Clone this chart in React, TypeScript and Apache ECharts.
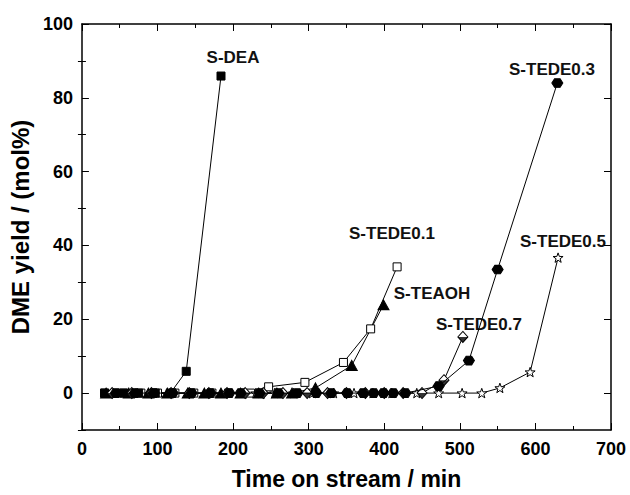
import React, { useEffect, useRef } from "react";
import * as echarts from "echarts";

// ---- data (time on stream / min, DME yield / mol%) ----
const sDEA: number[][] = [[30, 0], [55, 0], [75, 0], [97, 0], [117, 0], [138, 5.9], [184, 85.9]];
const sTEDE01: number[][] = [[30, 0], [55, 0], [78, 0], [100, 0], [123, 0], [148, 0], [172, 0], [194, 0], [223, 0], [247, 1.7], [295, 2.9], [346, 8.3], [382, 17.4], [417, 34.2]];
const sTEAOH: number[][] = [[32, 0], [62, 0], [88, 0], [113, 0], [140, 0], [162, 0], [184, 0], [210, 0], [234, 0], [258, 0], [278, 0], [309, 1.4], [357, 7.5], [399, 23.9]];
const sTEDE07: number[][] = [[40, 0], [66, 0], [92, 0], [118, 0], [142, 0], [168, 0], [192, 0], [216, 0], [240, 0], [266, 0], [298, 0], [325, 0], [350, 0], [375, 0], [400, 0], [425, 0], [450, 0], [479, 3.5], [504, 15.2]];
const sTEDE03: number[][] = [[45, 0], [70, 0], [95, 0], [120, 0], [145, 0], [170, 0], [195, 0], [210, 0], [235, 0], [260, 0], [285, 0], [310, 0], [330, 0], [351, 0], [372, 0], [386, 0], [399, 0], [412, 0], [428, 0], [472, 1.9], [512, 8.8], [550, 33.5], [629, 84]];
const sTEDE05: number[][] = [[230, 0], [255, 0], [280, 0], [305, 0], [333, 0], [360, 0], [385, 0], [410, 0], [443, 0], [472, 0], [503, 0], [529, 0], [553, 1.4], [593, 5.7], [630, 36.7]];

const seriesNames = ["S-DEA", "S-TEDE0.1", "S-TEAOH", "S-TEDE0.7", "S-TEDE0.3", "S-TEDE0.5"];
const yLabelTicks = [0, 20, 40, 60, 80, 100];
const yMinorTicks = [-10, 10, 30, 50, 70, 90];

const STAR = "path://M10,0L12.35,6.76L19.51,6.91L13.8,11.24L15.88,18.09L10,14L4.12,18.09L6.2,11.24L0.49,6.91L7.65,6.76Z";
const HEX = "path://M0,5L2.5,0.67L7.5,0.67L10,5L7.5,9.33L2.5,9.33Z";
const DOWN_TRI = "path://M0,0L10,0L5,5Z";

const FONT = "Liberation Sans, Arial, Helvetica, sans-serif";
const BLACK = "#000";

export default function App() {
  const ref = useRef<HTMLDivElement>(null);
  useEffect(() => {
    if (!ref.current) return;
    const chart = echarts.init(ref.current, undefined, { renderer: "svg" });

    const lineBase = (name: string, data: number[][], extra: any) => ({
      name,
      type: "line",
      data,
      lineStyle: { color: BLACK, width: 1 },
      itemStyle: { color: BLACK, borderColor: BLACK, borderWidth: 1 },
      showSymbol: true,
      showAllSymbol: true,
      symbolKeepAspect: true,
      ...extra,
    });

    const axisLine = { show: true, onZero: false, lineStyle: { color: BLACK, width: 1.5 } };

    const label = (text: string, x: number, y: number) => ({
      type: "text",
      x,
      y,
      style: {
        text,
        font: `bold 17px ${FONT}`,
        fill: "#111",
        textAlign: "center",
        textVerticalAlign: "middle",
      },
    });

    const option: any = {
      animation: false,
      backgroundColor: "#fff",
      grid: { left: 81, right: 19, top: 24, bottom: 59, containLabel: false },
      xAxis: [
        {
          type: "value",
          min: 0,
          max: 700,
          interval: 100,
          position: "bottom",
          axisLine,
          axisTick: { show: true, inside: true, length: 7, lineStyle: { color: BLACK, width: 1 } },
          minorTick: { show: true, splitNumber: 2, length: 4, lineStyle: { color: BLACK, width: 1 } },
          splitLine: { show: false },
          axisLabel: { color: BLACK, fontSize: 18, fontWeight: "bold", fontFamily: FONT, margin: 10 },
          name: "Time on stream / min",
          nameLocation: "middle",
          nameGap: 37,
          nameTextStyle: { color: BLACK, fontSize: 23, fontWeight: "bold", fontFamily: FONT },
        },
        {
          type: "value",
          min: 0,
          max: 700,
          interval: 100,
          position: "top",
          axisLine,
          axisTick: { show: true, inside: true, length: 7, lineStyle: { color: BLACK, width: 1 } },
          minorTick: { show: true, splitNumber: 2, length: 4, lineStyle: { color: BLACK, width: 1 } },
          splitLine: { show: false },
          axisLabel: { show: false },
        },
      ],
      yAxis: [
        {
          type: "value",
          min: -10,
          max: 100,
          interval: 10,
          position: "left",
          axisLine,
          axisTick: { show: true, inside: true, length: 7, customValues: yLabelTicks, lineStyle: { color: BLACK, width: 1 } },
          splitLine: { show: false },
          axisLabel: { color: BLACK, fontSize: 18, fontWeight: "bold", fontFamily: FONT, margin: 9, customValues: yLabelTicks },
          name: "DME yield / (mol%)",
          nameLocation: "middle",
          nameGap: 48,
          nameTextStyle: { color: BLACK, fontSize: 24, fontWeight: "bold", fontFamily: FONT },
        },
        {
          type: "value",
          min: -10,
          max: 100,
          interval: 10,
          position: "right",
          axisLine,
          axisTick: { show: true, inside: true, length: 7, customValues: yLabelTicks, lineStyle: { color: BLACK, width: 1 } },
          splitLine: { show: false },
          axisLabel: { show: false },
        },
        {
          type: "value",
          min: -10,
          max: 100,
          interval: 10,
          position: "left",
          axisLine: { show: false },
          axisTick: { show: true, inside: true, length: 4, customValues: yMinorTicks, lineStyle: { color: BLACK, width: 1 } },
          splitLine: { show: false },
          axisLabel: { show: false },
        },
        {
          type: "value",
          min: -10,
          max: 100,
          interval: 10,
          position: "right",
          axisLine: { show: false },
          axisTick: { show: true, inside: true, length: 4, customValues: yMinorTicks, lineStyle: { color: BLACK, width: 1 } },
          splitLine: { show: false },
          axisLabel: { show: false },
        },
      ],
      series: [
        lineBase(seriesNames[1], sTEDE01, { symbol: "rect", symbolSize: 8, itemStyle: { color: "#fff", borderColor: BLACK, borderWidth: 1 } }),
        lineBase(seriesNames[5], sTEDE05, { symbol: STAR, symbolSize: 10, itemStyle: { color: "#fff", borderColor: BLACK, borderWidth: 1 } }),
        lineBase(seriesNames[0], sDEA, { symbol: "rect", symbolSize: 8 }),
        lineBase(seriesNames[2], sTEAOH, { symbol: "triangle", symbolSize: [11, 10] }),
        lineBase(seriesNames[3], sTEDE07, { symbol: "diamond", symbolSize: [10, 11], symbolKeepAspect: false, z: 3, itemStyle: { color: "#fff", borderColor: BLACK, borderWidth: 1 } }),
        {
          name: seriesNames[3] + " fill",
          type: "scatter",
          data: sTEDE07,
          symbol: DOWN_TRI,
          symbolSize: [10, 5.5],
          symbolOffset: [0, 2.75],
          itemStyle: { color: BLACK },
          silent: true,
          z: 4,
        },
        lineBase(seriesNames[4], sTEDE03, { symbol: HEX, symbolSize: [11, 10], z: 5 }),
      ],
      graphic: [
        label("S-DEA", 233, 57),
        label("S-TEDE0.1", 392, 233),
        label("S-TEAOH", 432, 293),
        label("S-TEDE0.7", 479, 324),
        label("S-TEDE0.3", 552, 69),
        label("S-TEDE0.5", 563, 241),
      ],
    };

    chart.setOption(option);
    return () => chart.dispose();
  }, []);

  return <div ref={ref} style={{ position: "fixed", left: 0, top: 0, width: 630, height: 495, background: "#fff" }} />;
}
